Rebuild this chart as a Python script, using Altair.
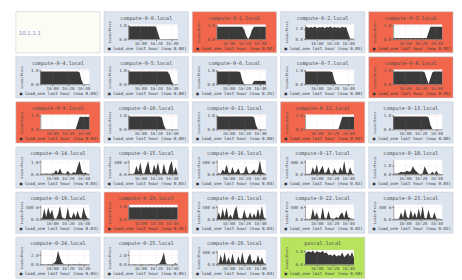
import altair as alt
import pandas as pd

# ---------------- data ----------------
hosts = ["compute-0-0", "compute-0-1", "compute-0-2", "compute-0-3",
         "compute-0-4", "compute-0-5", "compute-0-6", "compute-0-7", "compute-0-8",
         "compute-0-9", "compute-0-10", "compute-0-11", "compute-0-12", "compute-0-13",
         "compute-0-14", "compute-0-15", "compute-0-16", "compute-0-17", "compute-0-18",
         "compute-0-19", "compute-0-20", "compute-0-21", "compute-0-22", "compute-0-23",
         "compute-0-24", "compute-0-25", "compute-0-26", "pascal"]
status = ["ok", "alert", "ok", "alert",
          "ok", "ok", "ok", "ok", "alert",
          "alert", "ok", "ok", "alert", "ok",
          "ok", "ok", "ok", "ok", "ok",
          "ok", "alert", "ok", "ok", "ok",
          "ok", "ok", "ok", "head"]
cluster_label = "10.1.1.1"

minutes = [0, 2.5, 5, 7.5, 10, 12.5, 15, 17.5, 20, 22.5, 25, 27.5, 30,
           32.5, 35, 37.5, 40, 42.5, 45, 47.5, 50, 52.5, 55, 57.5, 60, 62.5]
tick_minutes = [15, 35, 55]
tick_labels = ["16:00", "16:20", "16:40"]

y_max = [1.1, 1.1, 1.45, 1.1,
         1.1, 1.1, 1.1, 1.1, 1.1,
         1.1, 1.1, 1.1, 1.1, 1.1,
         1.2, 0.6, 0.6, 0.6, 1.6,
         0.6, 1.1, 0.6, 0.6, 0.6,
         3.1, 3.1, 0.6, 1.1]
y_tick = [1.0, 1.0, 1.0, 1.0,
          1.0, 1.0, 1.0, 1.0, 1.0,
          1.0, 1.0, 1.0, 1.0, 1.0,
          1.0, 0.5, 0.5, 0.5, 1.0,
          0.5, 1.0, 0.5, 0.5, 0.5,
          2.0, 2.0, 0.5, 1.0]
y_tick_label = ["1.0", "1.0", "1.0", "1.0",
                "1.0", "1.0", "1.0", "1.0", "1.0",
                "1.0", "1.0", "1.0", "1.0", "1.0",
                "1.0", "500 m", "500 m", "500 m", "1.0",
                "500 m", "1.0", "500 m", "500 m", "500 m",
                "2.0", "2.0", "500 m", "1.0"]

load_c00 = [.95, .96, .95, .96, .95, .96, .95, .96, .95, .96, .95, .96, .95, .96, .93, .45, 0, 0, 0, 0, 0, 0, 0, 0, 0, 0]
load_c01 = [.92, .93, .92, .93, .92, .93, .92, .93, .92, .93, .92, .93, .92, .93, .7, .25, 0, .25, .7, .92, .93, .92, .93, .92, .93, .92]
load_c02 = [1.15, 1.22, 1.1, 1.2, 1.12, 1.25, 1.1, 1.18, 1.14, 1.22, 1.08, 1.2, 1.15, 1.24, 1.1, 1.2, 1.12, 1.18, 1.1, 1.22, 1.15, 1.2, .6, .06, .05, .05]
load_c03 = [.08, .07, .08, .07, .08, .07, .08, .07, .08, .07, .08, .07, .08, .07, .08, .07, .08, .07, .5, .92, .93, .92, .93, .92, .93, .92]
load_c04 = [.95, .96, .95, .96, .95, .96, .95, .96, .95, .96, .95, .96, .95, .96, .95, .96, .95, .96, .95, .96, .9, .3, 0, 0, 0, 0]
load_c05 = [.95, .96, .95, .96, .95, .96, .95, .96, .95, .96, .95, .96, .95, .96, .95, .96, .95, .96, .95, .96, .93, .7, .2, 0, 0, 0]
load_c06 = [.95, .96, .95, .96, .95, .96, .95, .96, .95, .96, .95, .96, .9, .3, 0, 0, 0, 0, 0, .25, .26, .25, .26, .25, .26, .25]
load_c07 = [.95, .96, .95, .96, .95, .96, .95, .96, .95, .96, .95, .96, .95, .96, .9, .3, 0, 0, 0, 0, 0, 0, 0, 0, 0, 0]
load_c08 = [.95, .96, .95, .96, .95, .96, .95, .96, .95, .96, .95, .96, .95, .96, .95, .96, .9, .45, .02, .45, .9, .95, .96, .95, .96, .95]
load_c09 = [0, 0, 0, 0, 0, 0, 0, 0, 0, 0, 0, 0, 0, 0, 0, 0, 0, 0, 0, .45, .93, .94, .93, .94, .93, .94]
load_c10 = [.95, .96, .95, .96, .95, .96, .95, .96, .95, .96, .95, .96, .95, .96, .95, .96, .95, .9, .3, 0, 0, 0, 0, 0, 0, 0]
load_c11 = [.95, .96, .95, .96, .95, .96, .95, .96, .95, .96, .95, .96, .95, .96, .95, .96, .95, .96, .95, .9, .3, 0, 0, 0, 0, 0]
load_c12 = [0, 0, 0, 0, 0, 0, 0, 0, 0, 0, 0, 0, 0, 0, 0, 0, 0, 0, .45, .93, .94, .93, .94, .93, .94, .93]
load_c13 = [.95, .96, .95, .96, .95, .96, .95, .96, .95, .96, .95, .96, .95, .96, .95, .96, .95, .96, .9, .3, 0, 0, 0, 0, 0, 0]
load_c14 = [.05, .06, .05, .08, .06, .05, .07, .1, .35, .08, .5, .1, .07, .06, .3, .08, .06, .2, .1, .65, 1.1, .3, .08, .15, .06, .05]
load_c15 = [.02, .03, .02, .05, .35, .1, .5, .05, .03, .3, .55, .1, .04, .4, .15, .5, .05, .03, .45, .1, .02, .35, .55, .06, .3, .04]
load_c16 = [.02, .05, .03, .2, .1, .4, .08, .05, .3, .06, .1, .25, .04, .05, .08, .35, .06, .04, .1, .2, .05, .15, .58, .1, .05, .03]
load_c17 = [.02, .03, .02, .04, .3, .08, .4, .05, .2, .35, .05, .1, .3, .05, .04, .25, .08, .05, .3, .1, .55, .08, .04, .3, .05, .02]
load_c18 = [.05, .1, .08, .15, .3, .2, .25, .4, .3, .35, .9, .5, .3, .08, .05, .1, .9, .4, .05, .06, .3, .05, .4, .08, .05, .04]
load_c19 = [.03, .05, .45, .1, .5, .2, .4, .05, .03, .2, .55, .1, .04, .05, .5, .1, .06, .3, .08, .35, .1, .04, .5, .2, .05, .03]
load_c20 = [.9, .91, .9, .91, .9, .91, .9, .91, .9, .91, .9, .91, .9, .91, .9, .91, .9, .91, .9, .91, .9, .91, .9, .91, .9, .91]
load_c21 = [.04, .3, .05, .45, .1, .5, .06, .2, .04, .35, .55, .08, .04, .05, .4, .1, .05, .3, .05, .25, .06, .45, .1, .55, .08, .04]
load_c22 = [.02, .03, .02, .04, .45, .1, .3, .05, .03, .5, .06, .04, .35, .05, .04, .03, .1, .05, .2, .3, .06, .4, .1, .05, .03, .02]
load_c23 = [.02, .03, .02, .04, .3, .06, .45, .1, .05, .4, .08, .3, .05, .45, .1, .55, .06, .05, .4, .08, .05, .3, .04, .03, .02, .02]
load_c24 = [.05, .1, .05, .08, .1, .15, .1, .3, .8, 2.9, 1.5, .4, .1, .05, .08, .1, .05, .15, .1, .05, .2, .1, .05, .1, .05, .05]
load_c25 = [.05, .08, .05, .1, .05, .08, .05, .1, .05, .08, .05, .1, .15, .05, .08, .1, .3, 1.2, 2.6, .3, .05, .08, .05, .1, .3, .05]
load_c26 = [.03, .05, .4, .1, .5, .08, .3, .05, .45, .1, .03, .35, .05, .5, .1, .04, .3, .45, .06, .2, .05, .4, .1, .3, .05, .03]
load_pascal = [.8, .95, 1.0, .9, 1.05, .85, 1.0, .95, .9, 1.02, .85, .9, .7, .75, .65, .8, .6, .7, .65, .9, .55, .7, .85, .6, .95, .5]

loads = [load_c00, load_c01, load_c02, load_c03, load_c04, load_c05, load_c06,
         load_c07, load_c08, load_c09, load_c10, load_c11, load_c12, load_c13,
         load_c14, load_c15, load_c16, load_c17, load_c18, load_c19, load_c20,
         load_c21, load_c22, load_c23, load_c24, load_c25, load_c26, load_pascal]

# ---------------- style ----------------
BG = {"ok": "#dce4ef", "alert": "#f2664c", "head": "#b8e35f"}
W, H = 50, 15          # plot area
CW, CH = 86, 42        # whole panel
OX, OY = 25, 13        # plot offset inside panel
FONT = "DejaVu Sans Mono"
AREA = "#3a3a3a"
TXT = "#4a4a4a"

x_label_expr = " : ".join(
    [f"datum.value == {m} ? '{l}'" for m, l in zip(tick_minutes[:-1], tick_labels[:-1])]
) + f" : '{tick_labels[-1]}'"


def background(color, stroke="#c5ccd6"):
    return alt.Chart(pd.DataFrame({"k": [0]})).mark_rect(
        color=color, stroke=stroke, strokeWidth=0.6
    ).encode(x=alt.value(-OX), x2=alt.value(CW - OX),
             y=alt.value(-OY), y2=alt.value(CH - OY))


def panel(i):
    host = hosts[i]
    df = pd.DataFrame({"t": minutes, "load": loads[i]})
    info = pd.DataFrame({
        "title": [host + ".local"],
        "legend": ["\u25a0 load_one last hour (now %.2f)" % loads[i][-1]],
    })
    bg = background(BG[status[i]])
    plot_bg = alt.Chart(pd.DataFrame({"k": [0]})).mark_rect(color="white").encode(
        x=alt.value(0), x2=alt.value(W), y=alt.value(0), y2=alt.value(H))
    ylab = f"datum.value == 0 ? '0.0' : '{y_tick_label[i]}'"
    area = alt.Chart(df).mark_area(color=AREA, interpolate="linear").encode(
        x=alt.X("t:Q", scale=alt.Scale(domain=[0, 62.5], nice=False, zero=False),
                axis=alt.Axis(values=tick_minutes, labelExpr=x_label_expr, title=None,
                              labelFontSize=4.2, labelFont=FONT, labelColor=TXT,
                              tickSize=1.5, tickColor="#777", domainColor="#666",
                              domainWidth=0.6, labelPadding=1, labelFlush=False,
                              labelOverlap=False, grid=True, gridColor="#e59a9a",
                              gridOpacity=0.5, gridWidth=0.4, gridDash=[1, 1], zindex=1)),
        y=alt.Y("load:Q", scale=alt.Scale(domain=[0, y_max[i]], nice=False),
                axis=alt.Axis(values=[0, y_tick[i]], labelExpr=ylab, title="Loads/Procs",
                              titleFontSize=3.4, titleFont=FONT, titleColor=TXT,
                              titleFontWeight="normal", titleX=-19, titleY=H / 2,
                              titleAlign="center", titleBaseline="middle",
                              labelFontSize=4.2, labelFont=FONT, labelColor=TXT,
                              tickSize=1.5, tickColor="#777", domainColor="#666",
                              domainWidth=0.6, labelPadding=1, labelOverlap=False,
                              grid=True, gridColor="#e59a9a", gridOpacity=0.5,
                              gridWidth=0.4, gridDash=[1, 1], zindex=1)),
    )
    title = alt.Chart(info).mark_text(font=FONT, fontSize=5.2, color=TXT,
                                      align="center", baseline="middle").encode(
        x=alt.value(CW / 2 - OX), y=alt.value(-7), text="title:N")
    legend = alt.Chart(info).mark_text(font=FONT, fontSize=4.3, color="#333",
                                       align="left", baseline="middle").encode(
        x=alt.value(-21), y=alt.value(25), text="legend:N")
    return alt.layer(bg, plot_bg, area, title, legend).properties(width=W, height=H)


first = alt.layer(
    background("#fbfcf4", stroke="#cfcfcf"),
    alt.Chart(pd.DataFrame({"label": [cluster_label]})).mark_text(
        font="DejaVu Sans", fontSize=5.5, color="#8a8fd0", align="left",
        baseline="middle").encode(x=alt.value(-22), y=alt.value(9), text="label:N"),
).properties(width=W, height=H)

charts = [first] + [panel(i) for i in range(len(hosts))]

chart = alt.concat(*charts, columns=5, spacing=2).properties(
    padding={"left": 7, "top": 0, "right": 0, "bottom": 0}
).configure_view(stroke=None)

chart.save("out.html", embed_options={"renderer": "svg", "actions": False})
